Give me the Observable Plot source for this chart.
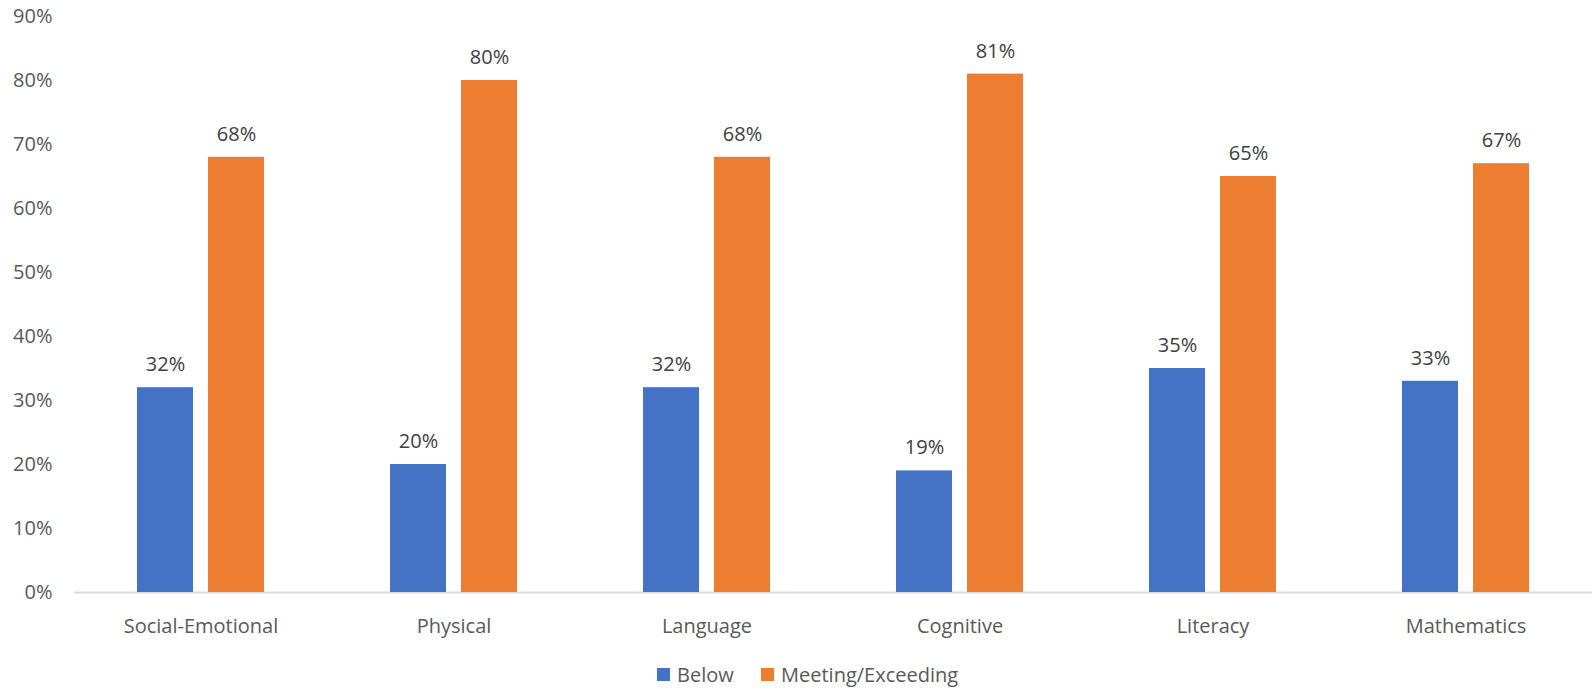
<!DOCTYPE html>
<html>
<head>
<meta charset="utf-8">
<script src="https://cdn.jsdelivr.net/npm/d3@7"></script>
<script src="https://cdn.jsdelivr.net/npm/@observablehq/plot@0.6"></script>
<style>
  html, body { margin: 0; padding: 0; background: #fff; }
  #chart svg { display: block; }
  .legend { position: relative; height: 28px; font-family: "Open Sans", sans-serif; font-size: 20px; color: #595959; }
  .legend .item { position: absolute; top: 0; display: flex; align-items: center; height: 28px; }
  .legend .sw { width: 13px; height: 13px; margin-right: 7px; }
</style>
</head>
<body>
<div id="chart"></div>
<div class="legend" id="legend"></div>
<script>
const categories = ["Social-Emotional", "Physical", "Language", "Cognitive", "Literacy", "Mathematics"];
const seriesNames = ["Below", "Meeting/Exceeding"];
const belowValues = [32, 20, 32, 19, 35, 33];
const meetingValues = [68, 80, 68, 81, 65, 67];
const yTicks = [0, 10, 20, 30, 40, 50, 60, 70, 80, 90];
const colors = ["#4472C4", "#ED7D31"];

const data = categories.flatMap((c, i) => [
  {category: c, series: seriesNames[0], value: belowValues[i]},
  {category: c, series: seriesNames[1], value: meetingValues[i]}
]);

const chart = Plot.plot({
  width: 1593,
  height: 660,
  marginLeft: 73,
  marginRight: 1,
  marginTop: 16,
  marginBottom: 68,
  style: {fontFamily: "Open Sans, sans-serif", fontSize: "20px", color: "#595959", background: "#fff"},
  fx: {domain: categories, padding: 0, label: null, axis: "bottom", tickSize: 0, tickPadding: 26},
  x: {domain: seriesNames, axis: null, paddingInner: 0.215, paddingOuter: 0.865},
  y: {domain: [0, 90], ticks: yTicks, tickFormat: d => d + "%", tickSize: 0, tickPadding: 22, label: null},
  color: {domain: seriesNames, range: colors},
  marks: [
    Plot.ruleY([0], {stroke: "#d9d9d9", strokeWidth: 2}),
    Plot.barY(data, {fx: "category", x: "series", y: "value", fill: "series"}),
    Plot.text(data, {fx: "category", x: "series", y: "value", text: d => d.value + "%", dy: -23, fill: "#404040", fontSize: 20})
  ]
});
document.getElementById("chart").appendChild(chart);

const legend = document.getElementById("legend");
const lefts = [657, 761];
seriesNames.forEach((s, i) => {
  const item = document.createElement("div");
  item.className = "item";
  item.style.left = lefts[i] + "px";
  const sw = document.createElement("div");
  sw.className = "sw";
  sw.style.background = colors[i];
  const t = document.createElement("span");
  t.textContent = s;
  item.appendChild(sw);
  item.appendChild(t);
  legend.appendChild(item);
});
</script>
</body>
</html>
